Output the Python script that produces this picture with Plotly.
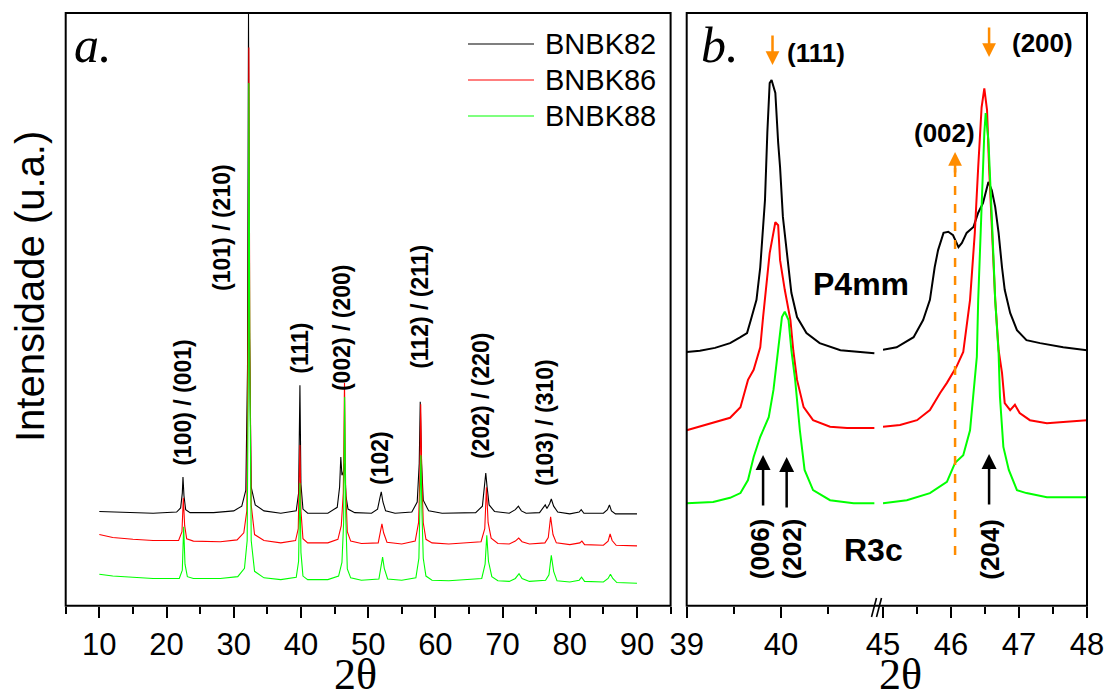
import plotly.graph_objects as go

W, H = 1107, 700

# ---------------- data ----------------
series_names = ["BNBK82", "BNBK86", "BNBK88"]
series_colors = ["#000000", "#FF0000", "#00FF00"]

# Panel a: full diffractograms (2theta, offset intensity)
xrd_82 = [(10.0, 15.9), (14, 15.7), (18, 15.6), (21.5, 15.8), (22.1, 16.5), (22.35, 19.0), (22.45, 21.7),
          (22.6, 18.5), (22.85, 16.2), (23.5, 15.7), (27, 15.7), (30, 16.0), (31.2, 16.8), (31.8, 19.5),
          (32.05, 40), (32.2, 100), (32.35, 45), (32.6, 20), (33.2, 17.0), (34.5, 16.0), (37, 15.6),
          (39.3, 16.0), (39.65, 19), (39.85, 37.2), (40.0, 20.5), (40.3, 16.3), (41, 15.6), (44, 15.6),
          (45.4, 16.6), (45.75, 20), (45.93, 25.1), (46.1, 22), (46.3, 22.5), (46.5, 24.0), (46.7, 18.5),
          (47.0, 16.3), (48, 15.7), (50.5, 15.6), (51.4, 16.3), (51.75, 18.2), (51.95, 19.2), (52.2, 17.5),
          (52.6, 16.0), (54, 15.6), (56.5, 15.8), (57.3, 17.5), (57.6, 24), (57.75, 34.4), (57.95, 24),
          (58.2, 17.8), (59, 16.0), (61, 15.6), (66, 15.7), (67.0, 16.8), (67.35, 20), (67.5, 22.4),
          (67.7, 20), (68.0, 17.0), (68.8, 15.9), (71, 15.6), (71.9, 16.2), (72.35, 16.8), (72.8, 16.0),
          (73.5, 15.6), (75.5, 15.7), (76.1, 16.5), (76.35, 17.0), (76.6, 16.4), (77.0, 17.2), (77.25, 18.0),
          (77.6, 16.8), (78.2, 15.8), (80, 15.5), (81.4, 15.8), (81.7, 16.2), (82.1, 15.6), (85, 15.6),
          (85.6, 16.2), (85.9, 17.0), (86.2, 16.0), (86.8, 15.5), (90, 15.5)]

xrd_86 = [(10.0, 12.0), (12, 11.5), (15, 11.2), (18, 11.0), (21.8, 11.0), (22.3, 12.5), (22.5, 18.2),
          (22.7, 13.5), (23.0, 11.3), (24, 10.9), (28, 10.8), (30.5, 11.1), (31.5, 12.3), (31.95, 16),
          (32.15, 50), (32.25, 94.2), (32.4, 45), (32.6, 17), (33.1, 12.0), (34.5, 11.0), (37, 10.6),
          (39.2, 11.0), (39.6, 13), (39.85, 27.1), (40.0, 16), (40.3, 11.3), (41, 10.6), (44, 10.6),
          (45.5, 11.2), (46.0, 13.5), (46.3, 19), (46.48, 37.6), (46.65, 20), (46.9, 12.5), (47.4, 10.9),
          (49, 10.5), (51.5, 10.6), (51.85, 12.3), (52.05, 13.8), (52.3, 12.3), (52.8, 10.7), (55, 10.4),
          (57.0, 10.9), (57.5, 14), (57.7, 22), (57.82, 34.0), (57.98, 22), (58.2, 14), (58.6, 11.2),
          (59.5, 10.6), (62, 10.4), (66.8, 10.8), (67.35, 13), (67.6, 20.0), (67.85, 14), (68.3, 11.4),
          (69.3, 10.5), (71, 10.4), (71.9, 10.9), (72.4, 11.4), (72.9, 10.8), (74, 10.4), (76.3, 10.6),
          (76.8, 11.5), (77.15, 15.0), (77.5, 12.0), (78.0, 10.6), (80, 10.3), (81.5, 10.6), (81.8, 10.9),
          (82.2, 10.3), (85, 10.2), (85.7, 10.9), (86.0, 12.1), (86.3, 11.0), (86.9, 10.2), (90, 10.1)]

xrd_88 = [(10.0, 5.3), (12, 5.0), (15, 4.8), (18, 4.6), (21.9, 4.6), (22.35, 6), (22.55, 13.3), (22.75, 7),
          (23.1, 4.9), (24, 4.6), (28, 4.6), (30.6, 4.9), (31.6, 6.3), (32.0, 11), (32.17, 40), (32.25, 88.2),
          (32.4, 40), (32.6, 11), (33.1, 5.8), (34.5, 4.7), (37, 4.4), (39.3, 4.8), (39.65, 7.5), (39.85, 20.7),
          (40.0, 9), (40.3, 5.0), (41, 4.4), (44, 4.4), (45.6, 5.0), (46.1, 7.3), (46.35, 14), (46.5, 35.2),
          (46.67, 15), (46.9, 6.2), (47.4, 4.7), (49, 4.3), (51.6, 4.5), (51.95, 6.5), (52.15, 8.2),
          (52.4, 6.3), (52.9, 4.5), (55, 4.3), (57.1, 4.7), (57.55, 8), (57.72, 16), (57.85, 25.4), (58.0, 16),
          (58.2, 8), (58.6, 5.0), (59.5, 4.3), (62, 4.2), (66.9, 4.6), (67.4, 7), (67.65, 11.9), (67.9, 7.5),
          (68.4, 4.9), (69.3, 4.2), (71, 4.1), (71.9, 4.6), (72.45, 5.4), (72.9, 4.6), (74, 4.1), (76.4, 4.3),
          (76.9, 5.2), (77.25, 8.5), (77.6, 5.8), (78.1, 4.2), (80, 4.0), (81.4, 4.3), (81.75, 4.8),
          (82.2, 4.1), (85, 4.0), (85.7, 4.6), (86.05, 5.3), (86.4, 4.6), (87, 3.9), (90, 3.8)]

# Panel b: zoomed scans, low-angle window (39-41) and high-angle window (45-48)
zoom_lo_82 = [(39.00, 42.8), (39.14, 43.0), (39.30, 43.5), (39.46, 44.3), (39.57, 45.3), (39.64, 46.0),
              (39.68, 48.2), (39.74, 51.6), (39.78, 57.1), (39.83, 68.4), (39.855, 79.8), (39.88, 88.2),
              (39.90, 88.7), (39.94, 86.5), (39.97, 78.1), (39.99, 74.0), (40.02, 65.6), (40.06, 59.5),
              (40.11, 52.8), (40.17, 48.7), (40.27, 46.0), (40.41, 44.3), (40.63, 43.1), (40.99, 42.6)]
zoom_hi_82 = [(45.00, 43.2), (45.20, 43.6), (45.45, 45.3), (45.59, 48.2), (45.69, 51.6), (45.76, 57.1),
              (45.81, 60.0), (45.89, 62.9), (45.96, 63.1), (46.03, 62.5), (46.11, 60.5), (46.16, 61.2),
              (46.23, 62.9), (46.33, 63.9), (46.40, 66.3), (46.47, 67.9), (46.55, 71.5), (46.60, 70.1),
              (46.65, 67.3), (46.70, 62.9), (46.75, 57.1), (46.79, 53.3), (46.87, 49.4), (46.97, 46.5),
              (47.11, 44.8), (47.31, 44.3), (47.65, 43.6), (48.00, 43.1)]

zoom_lo_86 = [(39.00, 29.6), (39.14, 30.2), (39.28, 30.8), (39.46, 31.7), (39.57, 33.5), (39.65, 38.1),
              (39.71, 39.8), (39.78, 43.6), (39.81, 48.7), (39.85, 55.4), (39.88, 59.5), (39.94, 64.7),
              (39.97, 64.2), (39.99, 58.3), (40.04, 53.3), (40.10, 48.2), (40.13, 43.1), (40.17, 38.1),
              (40.24, 33.5), (40.34, 31.3), (40.52, 30.2), (40.70, 30.0), (40.99, 30.0)]
zoom_hi_86 = [(45.00, 30.2), (45.25, 30.5), (45.50, 31.3), (45.69, 33.0), (45.84, 35.9), (45.94, 37.6),
              (46.08, 40.3), (46.18, 42.8), (46.28, 51.6), (46.35, 62.9), (46.40, 74.0), (46.45, 84.1),
              (46.49, 87.3), (46.53, 83.6), (46.56, 74.0), (46.60, 62.9), (46.65, 51.6), (46.70, 43.1),
              (46.75, 39.3), (46.79, 34.2), (46.87, 33.0), (46.94, 33.9), (47.01, 32.5), (47.16, 31.3),
              (47.41, 30.8), (47.65, 31.0), (48.00, 31.3)]

zoom_lo_88 = [(39.00, 17.3), (39.28, 17.5), (39.46, 18.2), (39.57, 19.0), (39.65, 21.2), (39.71, 25.1),
              (39.78, 28.5), (39.87, 31.8), (39.92, 36.4), (39.97, 43.6), (40.01, 48.7), (40.04, 49.6),
              (40.08, 48.2), (40.11, 43.1), (40.15, 38.1), (40.20, 29.6), (40.25, 22.9), (40.34, 19.5),
              (40.52, 17.8), (40.77, 17.3), (40.99, 17.3)]
zoom_hi_88 = [(45.00, 17.3), (45.35, 17.8), (45.69, 19.0), (45.94, 20.9), (46.06, 24.1), (46.18, 25.4),
              (46.28, 29.6), (46.33, 35.2), (46.38, 42.0), (46.40, 51.6), (46.45, 68.4), (46.49, 79.8),
              (46.51, 83.1), (46.55, 78.6), (46.60, 65.6), (46.65, 51.6), (46.70, 42.6), (46.72, 35.2),
              (46.77, 26.8), (46.85, 22.9), (46.97, 19.5), (47.11, 19.0), (47.41, 18.3), (48.00, 18.3)]

full_scans = [xrd_82, xrd_86, xrd_88]
low_scans = [zoom_lo_82, zoom_lo_86, zoom_lo_88]
high_scans = [zoom_hi_82, zoom_hi_86, zoom_hi_88]

# Reflection labels for panel a: (text, 2theta, label centre intensity)
hkl_labels_a = [("(100) / (001)", 22.45, 34.4), ("(101) / (210)", 28.25, 63.9), ("(111)", 39.84, 43.5),
                ("(002) / (200)", 46.1, 47.0), ("(102)", 51.74, 24.9), ("(112) / (211)", 57.69, 50.4),
                ("(202) / (220)", 66.9, 35.5), ("(103) / (310)", 76.3, 31.0)]

ticks_a = [10, 20, 30, 40, 50, 60, 70, 80, 90]
ticks_b_lo = [39, 40]
ticks_b_hi = [45, 46, 47, 48]

# ---------------- helpers (pixel -> paper) ----------------
def px(x):
    return x / W


def py(y):
    return 1 - y / H


FONT = "Liberation Sans, Arial, sans-serif"
SERIF = "Liberation Serif, Times New Roman, serif"

A_LEFT, A_RIGHT = 65.7, 670.6
B_LEFT, B_MID1, B_MID2, B_RIGHT = 686.7, 875.3, 883.0, 1087.0
TOP, BOTTOM = 13.0, 605.7

fig = go.Figure()

for name, color, scan in zip(series_names, series_colors, full_scans):
    xs, ys = zip(*scan)
    fig.add_trace(go.Scatter(x=xs, y=ys, mode="lines", name=name,
                             line=dict(color=color, width=1.1), xaxis="x", yaxis="y", showlegend=False))
for name, color, scan in zip(series_names, series_colors, low_scans):
    xs, ys = zip(*scan)
    fig.add_trace(go.Scatter(x=xs, y=ys, mode="lines", name=name,
                             line=dict(color=color, width=2), xaxis="x2", yaxis="y2", showlegend=False))
for name, color, scan in zip(series_names, series_colors, high_scans):
    xs, ys = zip(*scan)
    fig.add_trace(go.Scatter(x=xs, y=ys, mode="lines", name=name,
                             line=dict(color=color, width=2), xaxis="x3", yaxis="y2", showlegend=False))

tickfont = dict(family=FONT, size=31, color="black")
common_x = dict(showgrid=False, zeroline=False, showline=False, ticks="outside", ticklen=11,
                tickwidth=2, tickcolor="black", tickfont=tickfont, fixedrange=True, automargin=False)
minor_style = dict(ticks="outside", ticklen=7, tickwidth=2, tickcolor="black", showgrid=False)

fig.update_layout(
    width=W, height=H,
    margin=dict(l=0, r=0, t=0, b=0, pad=0, autoexpand=False),
    paper_bgcolor="white", plot_bgcolor="white",
    xaxis=dict(domain=[px(A_LEFT), px(A_RIGHT)], range=[5, 95], anchor="y",
               tickmode="array", tickvals=ticks_a,
               minor=dict(tickmode="linear", tick0=5, dtick=10, **minor_style), **common_x),
    yaxis=dict(domain=[py(BOTTOM), py(TOP)], range=[0, 100], visible=False, anchor="x", automargin=False),
    xaxis2=dict(domain=[px(B_LEFT), px(B_MID1)], range=[39, 41], anchor="y2",
                tickmode="array", tickvals=ticks_b_lo,
                minor=dict(tickmode="array", tickvals=[39.5, 40.5], **minor_style), **common_x),
    xaxis3=dict(domain=[px(B_MID2), px(B_RIGHT)], range=[45, 48], anchor="y2",
                tickmode="array", tickvals=ticks_b_hi,
                minor=dict(tickmode="array", tickvals=[45.5, 46.5, 47.5], **minor_style), **common_x),
    yaxis2=dict(domain=[py(BOTTOM), py(TOP)], range=[0, 100], visible=False, anchor="x2", automargin=False),
)

shapes = []
# panel frames
for l, r in [(A_LEFT, A_RIGHT), (B_LEFT, B_RIGHT)]:
    shapes.append(dict(type="rect", xref="paper", yref="paper", x0=px(l), x1=px(r), y0=py(BOTTOM), y1=py(TOP),
                       line=dict(color="black", width=2), layer="above"))
# axis break marks
for x0 in (871.5, 876.5):
    shapes.append(dict(type="line", xref="paper", yref="paper", x0=px(x0), y0=py(617), x1=px(x0 + 5), y1=py(598),
                       line=dict(color="black", width=1.6)))
# legend samples
legend_y = [44, 80, 116]
for color, ly in zip(series_colors, legend_y):
    shapes.append(dict(type="line", xref="paper", yref="paper", x0=px(468), x1=px(534), y0=py(ly), y1=py(ly),
                       line=dict(color=color, width=1.2)))
# dashed orange marker for the (002) reflection
shapes.append(dict(type="line", xref="x3", yref="y2", x0=46.06, x1=46.06, y0=(BOTTOM - 555) / 5.927,
                   y1=(BOTTOM - 168) / 5.927, line=dict(color="#FF8C00", width=2.5, dash="dash")))
fig.update_layout(shapes=shapes)

ann = []
# legend texts
for name, ly in zip(series_names, legend_y):
    ann.append(dict(text=name, xref="paper", yref="paper", x=px(543), y=py(ly), xanchor="left", yanchor="middle",
                    showarrow=False, font=dict(family=FONT, size=29, color="black")))
# panel letters
ann.append(dict(text="<i>a.</i>", xref="paper", yref="paper", x=px(72), y=py(45), xanchor="left",
                yanchor="middle", showarrow=False, font=dict(family=SERIF, size=50, color="black")))
ann.append(dict(text="<i>b.</i>", xref="paper", yref="paper", x=px(699), y=py(45), xanchor="left",
                yanchor="middle", showarrow=False, font=dict(family=SERIF, size=50, color="black")))
# axis titles
for cx in (355, 900):
    ann.append(dict(text="2\u03b8", xref="paper", yref="paper", x=px(cx), y=0, xanchor="center",
                    yanchor="bottom", showarrow=False, borderpad=0,
                    font=dict(family=SERIF, size=44, color="black")))
ann.append(dict(text="Intensidade (u.a.)", xref="paper", yref="paper", x=px(30), y=py(287), xanchor="center",
                yanchor="middle", textangle=-90, showarrow=False, font=dict(family=FONT, size=40, color="black")))
# reflection labels, panel a
for txt, x, y in hkl_labels_a:
    ann.append(dict(text="<b>%s</b>" % txt, xref="x", yref="y", x=x, y=y, textangle=-90, showarrow=False,
                    xanchor="center", yanchor="middle", font=dict(family=FONT, size=23, color="black")))

# panel b labels
bfont = dict(family=FONT, size=26, color="black")
ann.append(dict(text="<b>(111)</b>", xref="x2", yref="y2", x=40.04, y=93.2, xanchor="left", yanchor="middle",
                showarrow=False, font=bfont))
ann.append(dict(text="<b>(200)</b>", xref="x3", yref="y2", x=46.87, y=94.9, xanchor="left", yanchor="middle",
                showarrow=False, font=bfont))
ann.append(dict(text="<b>(002)</b>", xref="x3", yref="y2", x=45.42, y=79.7, xanchor="left", yanchor="middle",
                showarrow=False, font=bfont))
ann.append(dict(text="<b>P4mm</b>", xref="paper", yref="paper", x=px(861), y=py(284), xanchor="center",
                yanchor="middle", showarrow=False, font=dict(family=FONT, size=32, color="black")))
ann.append(dict(text="<b>R3c</b>", xref="paper", yref="paper", x=px(873), y=py(550), xanchor="center",
                yanchor="middle", showarrow=False, font=dict(family=FONT, size=32, color="black")))
for txt, xr, x in [("(006)", "x2", 39.78), ("(202)", "x2", 40.12), ("(204)", "x3", 46.57)]:
    ann.append(dict(text="<b>%s</b>" % txt, xref=xr, yref="y2", x=x, y=(BOTTOM - 549) / 5.927, textangle=-90,
                    xanchor="center", yanchor="middle", showarrow=False, font=bfont))

# arrows: orange markers above, black markers below
orange = "#FF8C00"
for xr, x, ytip in [("x2", 39.91, 65), ("x3", 46.56, 57)]:
    ann.append(dict(text="", xref=xr, yref="y2", x=x, y=(BOTTOM - ytip) / 5.927, ax=0, ay=-31,
                    showarrow=True, arrowhead=2, arrowsize=1.1, arrowwidth=2.5, arrowcolor=orange))
ann.append(dict(text="", xref="x3", yref="y2", x=46.06, y=(BOTTOM - 152) / 5.927, ax=0, ay=22,
                showarrow=True, arrowhead=2, arrowsize=1.1, arrowwidth=2.5, arrowcolor=orange))
for xr, x, ytip in [("x2", 39.81, 455), ("x2", 40.06, 457), ("x3", 46.56, 454)]:
    ann.append(dict(text="", xref=xr, yref="y2", x=x, y=(BOTTOM - ytip) / 5.927, ax=0, ay=52,
                    showarrow=True, arrowhead=2, arrowsize=1.2, arrowwidth=2.5, arrowcolor="black"))

fig.update_layout(annotations=ann)

fig.write_html("out.html")
